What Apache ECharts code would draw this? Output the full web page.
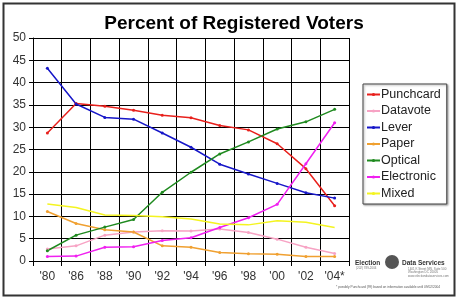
<!DOCTYPE html>
<html>
<head>
<meta charset="utf-8">
<script src="https://cdn.jsdelivr.net/npm/echarts@6/dist/echarts.min.js"></script>
<style>
  html, body { margin: 0; padding: 0; background: #fff; }
  #main { width: 458px; height: 297px; }
</style>
</head>
<body>
<div id="main"></div>
<script>
// years on x axis
var years = ["'80", "'86", "'88", "'90", "'92", "'94", "'96", "'98", "'00", "'02", "'04*"];
// percent of registered voters per equipment type
var punchcard  = [28.7, 35.3, 34.7, 33.8, 32.7, 32.1, 30.4, 29.4, 26.3, 20.7, 12.4];
var datavote   = [2.7, 3.4, 5.8, 6.5, 6.8, 6.7, 7.2, 6.4, 4.9, 3.1, 1.7];
var lever      = [43.2, 35.2, 32.2, 31.8, 28.7, 25.5, 21.7, 19.5, 17.4, 15.3, 14.1];
var paper      = [11.1, 8.4, 7.0, 6.5, 3.4, 3.1, 1.9, 1.6, 1.5, 1.0, 1.0];
var optical    = [2.3, 5.8, 7.6, 9.3, 15.4, 19.9, 24.0, 26.7, 29.6, 31.2, 34.0];
var electronic = [1.0, 1.1, 3.1, 3.2, 4.6, 5.2, 7.5, 9.7, 12.7, 21.8, 31.0];
var mixed      = [12.8, 12.0, 10.3, 10.2, 9.9, 9.4, 8.3, 8.1, 9.0, 8.7, 7.5];
var yTicks = { min: 0, max: 50, interval: 5 };

var myChart = echarts.init(document.getElementById('main'));

function line(name, data, color, sym) {
  return {
    name: name,
    type: 'line',
    data: data,
    symbol: sym || 'circle',
    symbolSize: 3,
    showSymbol: sym !== 'none',
    lineStyle: { color: color, width: 1.5 },
    itemStyle: { color: color },
    emphasis: { disabled: true }
  };
}

var option = {
  animation: false,
  backgroundColor: '#fff',
  textStyle: { fontFamily: 'Liberation Sans, Arial, sans-serif' },
  title: {
    text: 'Percent of Registered Voters',
    left: 229, top: 9, textAlign: 'center',
    textStyle: { fontSize: 19, fontWeight: 'bold', color: '#000' }
  },
  grid: { left: 33, right: 109, top: 38, bottom: 36 },
  legend: {
    orient: 'vertical',
    left: 363, top: 84,
    width: 87,
    padding: [4, 6, 4, 3],
    itemGap: 3.5,
    itemWidth: 13, itemHeight: 4,
    borderColor: '#444', borderWidth: 1,
    shadowColor: 'rgba(0,0,0,0.35)', shadowBlur: 2, shadowOffsetX: 1, shadowOffsetY: 1,
    backgroundColor: '#fff',
    textStyle: { fontSize: 12.5, color: '#222', padding: [0, 0, 0, -4] },
    data: ['Punchcard', 'Datavote', 'Lever', 'Paper', 'Optical', 'Electronic', 'Mixed']
  },
  xAxis: {
    type: 'category',
    data: years,
    boundaryGap: true,
    axisLine: { lineStyle: { color: '#000' } },
    axisTick: { show: true, length: 5, lineStyle: { color: '#000' } },
    axisLabel: { color: '#333', fontSize: 12, margin: 10 },
    splitLine: { show: true, lineStyle: { color: '#000', width: 1 } }
  },
  yAxis: {
    type: 'value',
    min: yTicks.min, max: yTicks.max, interval: yTicks.interval,
    axisLine: { show: true, lineStyle: { color: '#000' } },
    axisTick: { show: true, length: 4, lineStyle: { color: '#000' } },
    axisLabel: { color: '#333', fontSize: 12, margin: 7 },
    splitLine: { lineStyle: { color: '#000', width: 1 } }
  },
  series: [
    line('Punchcard', punchcard, '#e8201c'),
    line('Datavote', datavote, '#f7a3c4'),
    line('Lever', lever, '#1616c8'),
    line('Paper', paper, '#f0a030'),
    line('Optical', optical, '#1f8a1f'),
    line('Electronic', electronic, '#f020f0'),
    line('Mixed', mixed, '#f4f420', 'none')
  ],
  graphic: [
    {
      type: 'rect', left: 1, top: 1, z: 100, silent: true,
      shape: { width: 451, height: 292 },
      style: { fill: 'none', stroke: '#333', lineWidth: 2 }
    },
    {
      type: 'circle', left: 385, top: 255, z: 100,
      shape: { r: 7 }, style: { fill: '#555' }
    },
    {
      type: 'text', left: 355, top: 260, z: 100,
      style: { text: 'Election', font: 'bold 6.5px Liberation Sans', fill: '#333' }
    },
    {
      type: 'text', left: 356, top: 267, z: 100,
      style: { text: '(202) 789-2004', font: '3px Liberation Sans', fill: '#777' }
    },
    {
      type: 'text', left: 402, top: 260, z: 100,
      style: { text: 'Data Services', font: 'bold 6.5px Liberation Sans', fill: '#333' }
    },
    {
      type: 'text', left: 408, top: 267, z: 100,
      style: { text: '1401 K Street NW, Suite 500\nWashington DC 20005\nwww.electiondataservices.com', font: '3px Liberation Sans', fill: '#777', lineHeight: 3.5 }
    },
    {
      type: 'text', left: 336, top: 286, z: 100,
      style: { text: '* possibly Punchcard (99) based on information available until 09/02/2004', font: '3.2px Liberation Sans', fill: '#555' }
    }
  ]
};

myChart.setOption(option);
</script>
</body>
</html>
